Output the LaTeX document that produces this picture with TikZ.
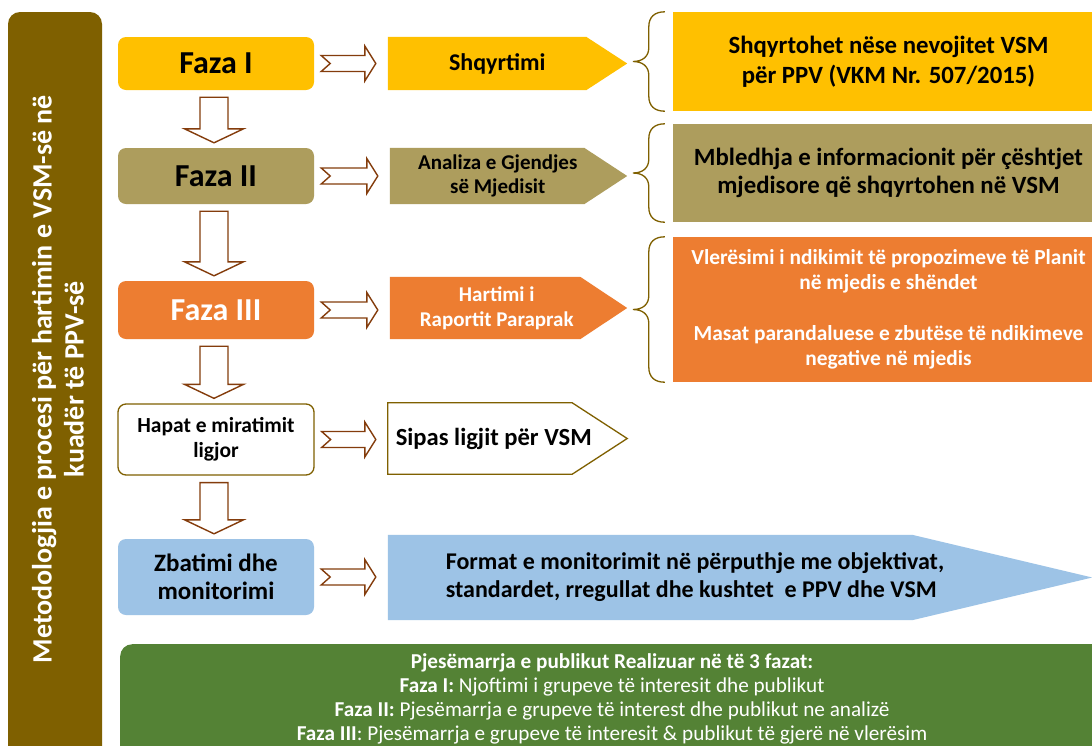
\documentclass[tikz,border=0pt]{standalone}
\usepackage{fontspec}
\setmainfont{Carlito}
\usetikzlibrary{calc,backgrounds}
\definecolor{barcol}{HTML}{7F6000}
\definecolor{yelcol}{HTML}{FFC000}
\definecolor{khacol}{HTML}{AD9D5D}
\definecolor{orcol}{HTML}{ED7D31}
\definecolor{blucol}{HTML}{9DC3E6}
\definecolor{grncol}{HTML}{548235}
\definecolor{arrcol}{HTML}{843C0C}
\newcommand\fsz[2]{\fontsize{#1}{#2}\selectfont}
\newcommand\pentafill[3]{\fill[#3] (#1.north west) -- ($(#1.north east)+(-#2/2,0)$) -- ($(#1.east)+(#2/2,0)$) -- ($(#1.south east)+(-#2/2,0)$) -- (#1.south west) -- cycle;}
\newcommand\rarrow[2]{\draw[hollow] let \p1=(#1.east), \p2=(#2.west) in
  (\x1+7pt,\y1+8pt) -- (\x2-23pt,\y1+8pt) -- (\x2-23pt,\y1+17.5pt) -- (\x2-12pt,\y1)
  -- (\x2-23pt,\y1-17.5pt) -- (\x2-23pt,\y1-8pt) -- (\x1+7pt,\y1-8pt) -- (\x1+16pt,\y1) -- cycle;}
\newcommand\darrow[2]{\draw[hollow] let \p1=(#1.south), \p2=(#2.north) in
  (\x1-16pt,\y1-7pt) -- (\x1+12pt,\y1-7pt) -- (\x1+12pt,\y2+19pt) -- (\x1+27.5pt,\y2+19pt)
  -- (\x1-2pt,\y2+5pt) -- (\x1-31.5pt,\y2+19pt) -- (\x1-16pt,\y2+19pt) -- cycle;}
\newcommand\bracedraw[1]{\draw[bracestyle] let \p1=(#1.north west), \p2=(#1.south west), \p3=(#1.west) in
  (\x1-8pt,\y1) .. controls (\x1-18pt,\y1) and (\x1-24pt,\y1-5pt) .. (\x1-24pt,\y1-15pt)
  -- (\x1-24pt,\y3+14pt) .. controls (\x1-24pt,\y3+5pt) and (\x1-30pt,\y3) .. (\x1-40pt,\y3)
  .. controls (\x1-30pt,\y3) and (\x1-24pt,\y3-5pt) .. (\x1-24pt,\y3-14pt)
  -- (\x1-24pt,\y2+15pt) .. controls (\x1-24pt,\y2+5pt) and (\x1-18pt,\y2) .. (\x1-8pt,\y2);}
\begin{document}
\begin{tikzpicture}[x=1pt,y=1pt,
  hollow/.style={draw=arrcol, line width=1.4pt, fill=white, line join=miter},
  phase/.style={rounded corners=8pt, minimum width=196pt, inner sep=0pt, align=center},
  penta/.style={inner sep=0pt, align=center},
  infobox/.style={minimum width=431pt, inner sep=0pt, align=center},
  bracestyle/.style={draw=barcol, line width=1.3pt}]
\clip (0,0) rectangle (1092,-745);
% left bar
\fill[barcol, rounded corners=12pt] (8,-12) rectangle (102,-775);
\node[rotate=90, text=white, align=center, font=\bfseries\fsz{28}{32}] (bartext) at (58,-379)
  {Metodologjia e procesi për hartimin e VSM-së në\\kuadër të PPV-së};
% phase boxes
\node[phase, fill=yelcol, minimum height=53pt, font=\bfseries\fsz{32}{36}] (f1) at (216,-63.5) {Faza I};
\node[phase, fill=khacol, minimum height=56pt, font=\bfseries\fsz{32}{36}] (f2) at (216,-176) {Faza II};
\node[phase, fill=orcol, text=white, minimum height=58pt, font=\bfseries\fsz{32}{36}] (f3) at (216,-310) {Faza III};
\node[phase, fill=white, draw=barcol, line width=1.3pt, minimum height=71pt, font=\bfseries\fsz{21.5}{25}] (hp) at (216,-439.5) {Hapat e miratimit\\ligjor};
\node[phase, fill=blucol, minimum height=76pt, font=\bfseries\fsz{25}{28}] (zb) at (216,-577) {Zbatimi dhe\\monitorimi};
% pentagons
\node[penta, minimum width=218.5pt, minimum height=53pt, font=\bfseries\fsz{24}{26}] (s1) at (497.25,-63.5) {Shqyrtimi};
\node[penta, minimum width=215.5pt, minimum height=56pt, font=\bfseries\fsz{21}{24}] (s2) at (497.75,-176) {Analiza e Gjendjes\\së Mjedisit};
\node[penta, minimum width=213.5pt, minimum height=62pt, text=white, font=\bfseries\fsz{21}{25}] (s3) at (496.75,-308) {Hartimi i\\Raportit Paraprak};
\node[penta, minimum width=211.5pt, minimum height=71pt, font=\bfseries\fsz{24.6}{28}] (s4) at (493.75,-438.5) {Sipas ligjit për VSM};
\node[penta, minimum width=614pt, minimum height=85pt, align=left, font=\bfseries\fsz{24}{28}] (s5) at (695,-577.5) {Format e monitorimit në përputhje me objektivat,\\standardet, rregullat dhe kushtet\ \ e PPV dhe VSM};
\begin{scope}[on background layer]
\fill[white] (0,0) rectangle (1092,-745);
\pentafill{s1}{41}{yelcol}
\pentafill{s2}{43}{khacol}
\pentafill{s3}{47}{orcol}
\pentafill{s4}{55}{white, draw=barcol, line width=1.3pt}
\pentafill{s5}{180}{blucol}
\end{scope}
% right boxes
\node[infobox, fill=yelcol, minimum height=99pt, font=\bfseries\fsz{24.8}{30}] (r1) at (888.5,-61.5) {Shqyrtohet nëse nevojitet VSM\\për PPV (VKM Nr. 507/2015)};
\node[infobox, fill=khacol, minimum height=98pt, font=\bfseries\fsz{24.8}{28.5}] (r2) at (888.5,-173) {Mbledhja e informacionit për çështjet\\mjedisore që shqyrtohen në VSM};
\node[infobox, fill=orcol, text=white, minimum height=145pt, font=\bfseries\fsz{21.4}{25}] (r3) at (888.5,-309.5) {Vlerësimi i ndikimit të propozimeve të Planit\\në mjedis e shëndet\\[26pt]Masat parandaluese e zbutëse të ndikimeve\\negative në mjedis};
\bracedraw{r1}
\bracedraw{r2}
\bracedraw{r3}
% arrows
\rarrow{f1}{s1}
\rarrow{f2}{s2}
\rarrow{f3}{s3}
\rarrow{hp}{s4}
\rarrow{zb}{s5}
\darrow{f1}{f2}
\darrow{f2}{f3}
\darrow{f3}{hp}
\darrow{hp}{zb}
% public participation
\node[fill=grncol, rounded corners=12pt, minimum width=990pt, minimum height=140pt, anchor=north west, inner sep=0pt] (pub) at (120,-644) {};
\node[anchor=north, text=white, align=center, font=\fsz{21.2}{24}] (pubtext) at (612,-650)
  {\textbf{Pjesëmarrja e publikut Realizuar në të 3 fazat:}\\
   \textbf{Faza I:} Njoftimi i grupeve të interesit dhe publikut\\
   \textbf{Faza II:} Pjesëmarrja e grupeve të interest dhe publikut ne analizë\\
   \textbf{Faza III}: Pjesëmarrja e grupeve të interesit \& publikut të gjerë në vlerësim};
\end{tikzpicture}
\end{document}
